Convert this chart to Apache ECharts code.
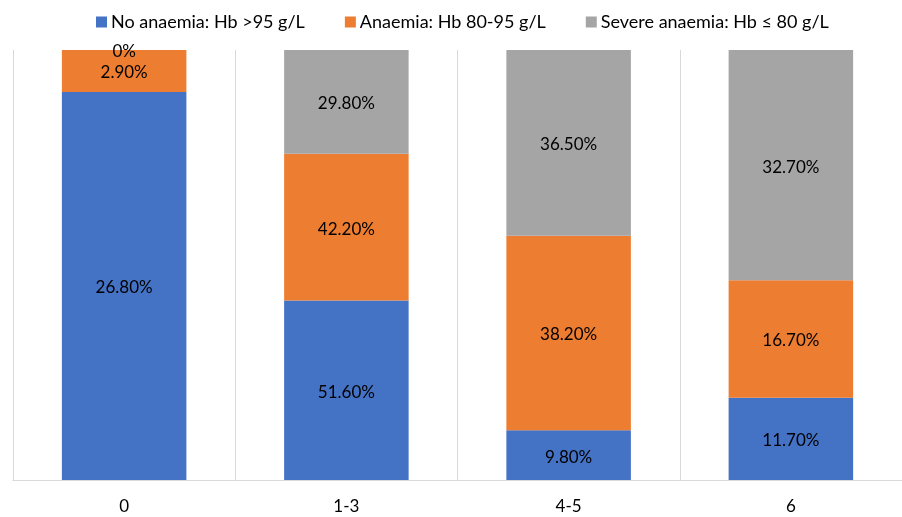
<!DOCTYPE html>
<html>
<head>
<meta charset="utf-8">
<script src="https://cdn.jsdelivr.net/npm/echarts@6/dist/echarts.min.js"></script>
<style>html,body{margin:0;padding:0;background:#fff}#c{width:902px;height:517px}</style>
</head>
<body>
<div id="c"></div>
<script>
const categories = ['0', '1-3', '4-5', '6'];
const noAnaemia = [26.8, 51.6, 9.8, 11.7];
const anaemia = [2.9, 42.2, 38.2, 16.7];
const severe = [0, 29.8, 36.5, 32.7];
const seriesNames = ['No anaemia: Hb >95 g/L', 'Anaemia: Hb 80-95 g/L', 'Severe anaemia: Hb \u2264 80 g/L'];
const colors = ['#4472C4', '#ED7D31', '#A5A5A5'];

const raw = [noAnaemia, anaemia, severe];
const totals = categories.map((_, i) => raw.reduce((s, a) => s + a[i], 0));
const fmt = v => v === 0 ? '0%' : v.toFixed(2) + '%';
const FONT = 'Lato';

const chart = echarts.init(document.getElementById('c'));
chart.setOption({
  animation: false,
  textStyle: { fontFamily: FONT },
  legend: {
    top: 8, left: 91, itemWidth: 11, itemHeight: 11, itemGap: 40,
    icon: 'rect',
    textStyle: { fontFamily: FONT, fontSize: 18, color: '#000', padding: [0, 0, 0, -1] },
    data: seriesNames
  },
  grid: { left: 13, top: 50, bottom: 37, width: 891 },
  xAxis: {
    type: 'category', data: categories,
    axisLine: { lineStyle: { color: '#D9D9D9', width: 1 } },
    axisTick: { show: false },
    splitLine: { show: true, lineStyle: { color: '#D9D9D9', width: 1 } },
    axisLabel: { color: '#000', fontSize: 17, margin: 18, fontFamily: FONT }
  },
  yAxis: { type: 'value', min: 0, max: 100, show: false, splitLine: { show: false } },
  series: raw.map((arr, k) => ({
    name: seriesNames[k], type: 'bar', stack: 'a', barWidth: 124.5,
    itemStyle: { color: colors[k] },
    data: arr.map((v, i) => ({ value: v / totals[i] * 100, raw: v })),
    label: {
      show: true, position: 'inside', offset: [0, 2],
      color: '#000', fontSize: 17, fontFamily: FONT,
      formatter: p => fmt(p.data.raw)
    }
  }))
});
</script>
</body>
</html>
